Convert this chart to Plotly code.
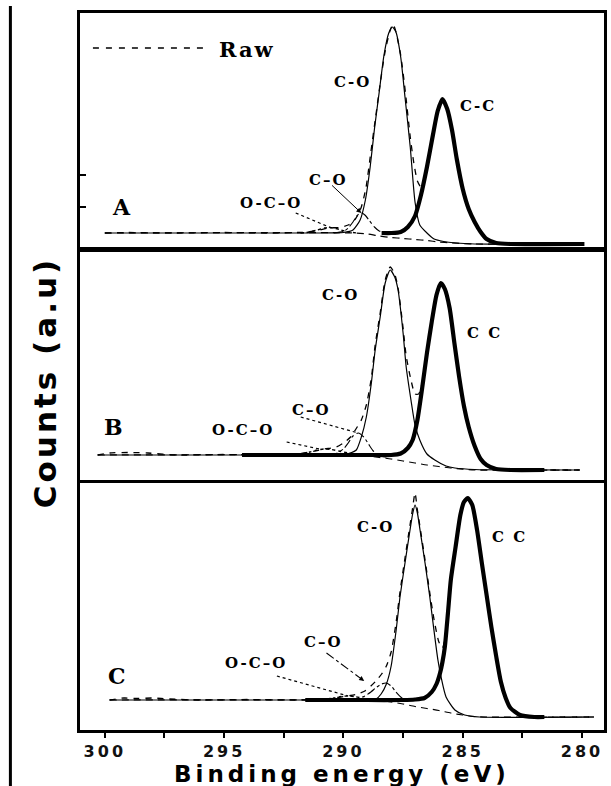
import plotly.graph_objects as go

# ------------------------------------------------------------------
# Data: binding energy (eV) and counts (a.u.)
# ------------------------------------------------------------------
# ---- Panel A ----
A_raw_E = [300.0, 299.0, 297.0, 295.0, 293.0, 291.5, 291.0, 290.6, 290.2, 289.8, 289.5, 289.25, 289.05, 288.85,
           288.65, 288.45, 288.25, 288.05, 287.92, 287.8, 287.6, 287.4, 287.2, 287.05, 286.9, 286.75, 286.5, 286.25,
           286.05, 285.85, 285.65, 285.45, 285.25, 285.0, 284.75, 284.5, 284.25, 284.0, 283.6, 283.0, 282.0, 280.0]
A_raw_I = [14, 14.5, 14, 14.5, 14, 15, 17, 19, 19.5, 22, 28, 40, 60, 95,
           130, 165, 196, 216, 223, 215, 192, 154, 110, 84, 66, 60, 80, 112,
           136, 148, 138, 117, 88, 58, 38, 25, 15, 8, 4, 3, 3, 3]
A_bg_E = [300.0, 289.5, 289.0, 288.5, 288.0, 287.5, 287.0, 286.5, 286.0, 285.5, 285.0, 284.5, 280.0]
A_bg_I = [14, 14, 13, 11, 9.5, 8.5, 7.5, 6.5, 5, 4.2, 3.5, 3, 3]
A_CC_E = [288.4, 288.0, 287.6, 287.3, 287.0, 286.75, 286.5, 286.25, 286.05, 285.85, 285.65, 285.45, 285.25, 285.0,
          284.75, 284.5, 284.25, 284.0, 283.6, 283.0, 279.9]
A_CC_I = [14, 14, 15, 20, 31, 52, 80, 112, 136, 148, 138, 117, 88, 58,
          38, 25, 15, 8, 4, 3, 3]
A_CO_E = [300.0, 291.0, 290.0, 289.6, 289.3, 289.08, 288.88, 288.7, 288.5, 288.3, 288.1, 287.95, 287.8, 287.6,
          287.42, 287.2, 287.0, 286.8, 286.5, 286.2, 285.8, 285.3, 284.5, 280.0]
A_CO_I = [14, 14, 14.5, 17, 27, 47, 80, 118, 155, 192, 214, 220, 215, 190,
          150, 100, 45, 22, 14, 8, 5.5, 4, 3, 3]
A_CdO_E = [290.4, 290.0, 289.8, 289.6, 289.4, 289.25, 289.1, 288.9, 288.7, 288.5, 288.2]
A_CdO_I = [14, 15.5, 19, 25, 32, 34, 32, 26, 20, 16, 14.5]
A_OCdO_E = [291.8, 291.4, 291.1, 290.8, 290.6, 290.4, 290.1, 289.8, 289.4]
A_OCdO_I = [14, 15, 17, 19, 19.5, 19, 17, 15, 14]

# ---- Panel B ----
B_raw_E = [300.3, 299.8, 299.0, 298.2, 297.0, 295.0, 293.0, 292.0, 291.4, 290.8, 290.3, 290.0, 289.7, 289.45,
           289.25, 289.04, 288.83, 288.67, 288.46, 288.25, 288.04, 287.85, 287.71, 287.5, 287.37, 287.17, 287.0,
           286.85, 286.7, 286.5, 286.3, 286.1, 285.92, 285.75, 285.55, 285.35, 285.15, 284.95, 284.75, 284.5,
           284.25, 284.0, 283.6, 283.0, 282.0, 280.1]
B_raw_I = [25, 27, 27.5, 27, 25, 25.5, 25, 26, 28, 31, 33, 37, 43, 52,
           60, 75, 102, 135, 167, 200, 213, 206, 192, 152, 124, 100, 86,
           86, 97, 127, 158, 185, 197, 191, 172, 137, 103, 74, 53, 34,
           21, 15, 11, 10, 10, 10]
B_bg_E = [300.3, 289.5, 289.0, 288.5, 288.0, 287.5, 287.0, 286.5, 286.0, 285.5, 285.0, 284.5, 280.1]
B_bg_I = [25, 25, 24, 22.5, 21, 19, 17, 15, 13.5, 12, 10.8, 10, 10]
B_CC_E = [294.25, 290.0, 288.5, 288.0, 287.6, 287.3, 287.1, 286.9, 286.7, 286.5, 286.3, 286.1, 285.92, 285.75,
          285.55, 285.35, 285.15, 284.95, 284.75, 284.5, 284.25, 284.0, 283.6, 283.0, 281.58]
B_CC_I = [25, 25, 25, 25, 26.5, 32, 40, 60, 92, 127, 158, 185, 197, 191,
          172, 137, 103, 74, 53, 34, 21, 15, 11, 10, 10]
B_CO_E = [300.3, 291.0, 290.0, 289.7, 289.46, 289.25, 289.04, 288.83, 288.67, 288.46, 288.25, 288.04, 287.85,
          287.71, 287.5, 287.37, 287.17, 287.0, 286.8, 286.5, 286.17, 285.7, 285.33, 284.5, 280.1]
B_CO_I = [25, 25, 25.5, 27, 30, 43, 63, 97, 130, 163, 197, 210, 203,
          190, 147, 113, 80, 55, 40, 26, 20, 14, 12, 10.5, 10]
B_CdO_E = [290.6, 290.3, 290.0, 289.8, 289.6, 289.38, 289.15, 288.95, 288.75, 288.5, 288.2]
B_CdO_I = [25, 26.5, 31, 37, 44, 47, 43, 36, 29, 24.5, 23]
B_OCdO_E = [292.2, 291.8, 291.4, 291.1, 290.8, 290.5, 290.2, 289.8, 289.4]
B_OCdO_I = [25, 26, 28, 30, 31, 30.5, 29, 27, 25.5]

# ---- Panel C ----
C_raw_E = [299.8, 299.2, 298.6, 298.0, 297.3, 296.0, 294.0, 292.0, 291.0, 290.4, 290.0, 289.7, 289.4, 289.1,
           288.85, 288.6, 288.4, 288.2, 288.0, 287.79, 287.63, 287.42, 287.21, 287.1, 287.0, 286.9, 286.79,
           286.58, 286.38, 286.2, 286.0, 285.85, 285.75, 285.62, 285.5, 285.3, 285.1, 284.95, 284.79, 284.6,
           284.4, 284.2, 284.0, 283.8, 283.6, 283.4, 283.2, 283.0, 282.6, 282.0, 281.0, 279.5]
C_raw_I = [30, 32, 31.5, 32, 31, 30, 30.5, 30, 30.5, 32, 33.5, 34.5, 36, 39,
           44, 50, 56, 64, 78, 108, 138, 172, 205, 222, 237, 220, 203,
           170, 137, 110, 88, 82, 90, 117, 150, 183, 215, 228, 232, 225,
           200, 167, 135, 103, 74, 48, 32, 22, 15, 13, 13, 13]
C_bg_E = [299.8, 289.0, 288.5, 288.0, 287.5, 287.0, 286.5, 286.0, 285.5, 285.0, 284.5, 284.0, 279.5]
C_bg_I = [30, 30, 29.5, 28, 26, 23.5, 21.5, 19.5, 17, 15, 13.5, 13, 13]
C_CC_E = [291.6, 289.0, 287.5, 287.0, 286.6, 286.3, 286.1, 285.95, 285.85, 285.75, 285.62, 285.5, 285.3, 285.1,
          284.95, 284.79, 284.6, 284.4, 284.2, 284.0, 283.8, 283.6, 283.4, 283.2, 283.0, 282.6, 282.0, 281.58]
C_CC_I = [30, 30, 30, 30.5, 32, 38, 46, 57, 68, 83, 117, 150, 183, 215,
          228, 232, 225, 200, 167, 135, 103, 74, 48, 32, 22, 15, 13, 13]
C_CO_E = [299.8, 291.0, 290.0, 289.3, 288.9, 288.63, 288.42, 288.2, 288.0, 287.79, 287.63, 287.42, 287.21,
          287.1, 287.0, 286.9, 286.79, 286.58, 286.38, 286.25, 286.04, 285.9, 285.7, 285.33, 284.92, 284.3, 279.5]
C_CO_I = [30, 30, 30, 30, 30.5, 31, 36, 46, 64, 100, 133, 167, 200,
          216, 225, 217, 200, 167, 133, 108, 70, 52, 33, 20, 15, 13, 13]
C_CdO_E = [289.7, 289.4, 289.1, 288.85, 288.6, 288.4, 288.2, 288.0, 287.8, 287.55, 287.3]
C_CdO_I = [30, 31.5, 34, 38, 43, 46, 47, 44, 38, 32, 30]
C_OCdO_E = [291.2, 290.8, 290.4, 290.1, 289.8, 289.5, 289.2, 288.8]
C_OCdO_I = [30, 30.8, 32, 33.5, 34, 33.3, 31.8, 30.3]

X_TICKS = [300, 297.5, 295, 292.5, 290, 287.5, 285, 282.5, 280]
X_TICKTEXT = ["300", "", "295", "", "290", "", "285", "", "280"]

# ------------------------------------------------------------------
W, H = 611, 786
ML, MR, MT, MB = 80, 4, 13, 56
PW, PH = W - ML - MR, H - MT - MB


def px(x):
    return (x - ML) / PW


def py(y):
    return (H - MB - y) / PH


E_RANGE = [301.04, 279.08]

STY = {
    "bg": dict(width=1.2, dash="7px,5px"),
    "raw": dict(width=1.3, dash="6px,6px"),
    "CO": dict(width=1.2, dash="solid"),
    "CdO": dict(width=1.1, dash="dashdot"),
    "OCdO": dict(width=1.4, dash="dot"),
    "CC": dict(width=4.2, dash="solid"),
}

panels = [
    dict(key="A", xa="x3", ya="y3", dom=[py(247), py(13)], yr=[0, 234],
         curves=[("bg", A_bg_E, A_bg_I), ("raw", A_raw_E, A_raw_I), ("CO", A_CO_E, A_CO_I),
                 ("CdO", A_CdO_E, A_CdO_I), ("OCdO", A_OCdO_E, A_OCdO_I), ("CC", A_CC_E, A_CC_I)]),
    dict(key="B", xa="x2", ya="y2", dom=[py(480), py(252)], yr=[0, 228],
         curves=[("bg", B_bg_E, B_bg_I), ("raw", B_raw_E, B_raw_I), ("CO", B_CO_E, B_CO_I),
                 ("CdO", B_CdO_E, B_CdO_I), ("OCdO", B_OCdO_E, B_OCdO_I), ("CC", B_CC_E, B_CC_I)]),
    dict(key="C", xa="x", ya="y", dom=[0, py(483)], yr=[0, 247],
         curves=[("bg", C_bg_E, C_bg_I), ("raw", C_raw_E, C_raw_I), ("CO", C_CO_E, C_CO_I),
                 ("CdO", C_CdO_E, C_CdO_I), ("OCdO", C_OCdO_E, C_OCdO_I), ("CC", C_CC_E, C_CC_I)]),
]

fig = go.Figure()
for p in panels:
    for name, E, I in p["curves"]:
        assert len(E) == len(I), (p["key"], name)
        fig.add_trace(go.Scatter(
            x=E, y=I, mode="lines", xaxis=p["xa"], yaxis=p["ya"],
            line=dict(color="black", shape="spline", smoothing=0.6, **STY[name]),
            showlegend=False, hoverinfo="skip"))


def apex(E, I):
    i = I.index(max(I))
    return E[i], I[i]


base_x = dict(range=E_RANGE, autorange=False, showline=True, mirror=True, linewidth=2.5, linecolor="black",
              showgrid=False, zeroline=False, ticks="", showticklabels=False)
base_y = dict(showline=True, mirror=True, linewidth=2.5, linecolor="black", showgrid=False, zeroline=False,
              ticks="", showticklabels=False, autorange=False)

layout = dict(
    width=W, height=H, margin=dict(l=ML, r=MR, t=MT, b=MB, pad=0),
    plot_bgcolor="white", paper_bgcolor="white", showlegend=False,
)
layout["xaxis"] = dict(base_x, anchor="y", domain=[0, 1], ticks="outside", ticklen=5, tickwidth=2,
                       tickcolor="black", tickvals=X_TICKS, ticktext=X_TICKTEXT, showticklabels=True,
                       tickfont=dict(family="DejaVu Sans", size=16, color="#111111", weight="bold"))
layout["yaxis"] = dict(base_y, anchor="x", domain=panels[2]["dom"], range=panels[2]["yr"])
layout["xaxis2"] = dict(base_x, anchor="y2", domain=[0, 1])
layout["yaxis2"] = dict(base_y, anchor="x2", domain=panels[1]["dom"], range=panels[1]["yr"])
layout["xaxis3"] = dict(base_x, anchor="y3", domain=[0, 1])
layout["yaxis3"] = dict(base_y, anchor="x3", domain=panels[0]["dom"], range=panels[0]["yr"],
                        ticks="inside", ticklen=6, tickwidth=1.5, tickcolor="black", tickvals=[40, 72])
fig.update_layout(**layout)

lab_font = dict(family="DejaVu Serif", size=15, color="black", weight="bold")
let_font = dict(family="DejaVu Serif", size=22, color="black", weight="bold")

labels = [
    ("x3", "y3", "O-C–O", 293.04, 44, lab_font), ("x3", "y3", "C–O", 290.63, 67, lab_font),
    ("x3", "y3", "C-O", 289.63, 165, lab_font), ("x3", "y3", "C-C", 284.38, 141, lab_font),
    ("x3", "y3", "A", 299.29, 40, let_font),
    ("x2", "y2", "C-O", 290.13, 185, lab_font), ("x2", "y2", "C C", 284.08, 147, lab_font),
    ("x2", "y2", "C–O", 291.33, 70, lab_font), ("x2", "y2", "O-C–O", 294.21, 50, lab_font),
    ("x2", "y2", "B", 299.63, 53, let_font),
    ("x", "y", "C-O", 288.67, 203, lab_font), ("x", "y", "C C", 283.04, 193, lab_font),
    ("x", "y", "C–O", 290.83, 88, lab_font), ("x", "y", "O-C–O", 293.67, 67, lab_font),
    ("x", "y", "C", 299.5, 54, let_font),
]
for xr, yr, t, x, y, f in labels:
    fig.add_annotation(xref=xr, yref=yr, x=x, y=y, text=t, showarrow=False, font=f,
                       xanchor="center", yanchor="middle")

# leader lines
shapes = []
aE, aI = apex(A_OCdO_E, A_OCdO_I)
shapes.append(dict(type="line", xref="x3", yref="y3", x0=292.0, y0=34, x1=aE - 0.2, y1=aI - 1.5,
                   line=dict(color="black", width=1.2, dash="dot")))
aE, aI = apex(A_CdO_E, A_CdO_I)
fig.add_annotation(xref="x3", yref="y3", x=aE, y=aI, axref="x3", ayref="y3", ax=290.54, ay=63, text="",
                   showarrow=True, arrowhead=2, arrowsize=1, arrowwidth=1, arrowcolor="black", standoff=0)
aE, aI = apex(B_OCdO_E, B_OCdO_I)
shapes.append(dict(type="line", xref="x2", yref="y2", x0=292.38, y0=38, x1=aE + 0.2, y1=aI,
                   line=dict(color="black", width=1.2, dash="dot")))
aE, aI = apex(B_CdO_E, B_CdO_I)
shapes.append(dict(type="line", xref="x2", yref="y2", x0=291.79, y0=63, x1=aE, y1=aI,
                   line=dict(color="black", width=1.2, dash="dot")))
aE, aI = apex(C_OCdO_E, C_OCdO_I)
shapes.append(dict(type="line", xref="x", yref="y", x0=292.79, y0=54, x1=aE, y1=aI,
                   line=dict(color="black", width=1.2, dash="dot")))
shapes.append(dict(type="line", xref="x", yref="y", x0=290.71, y0=77, x1=289.13, y1=49,
                   line=dict(color="black", width=1.1, dash="dashdot")))
fig.add_annotation(xref="x", yref="y", x=289.13, y=49, axref="x", ayref="y", ax=289.37, ay=53.2, text="",
                   showarrow=True, arrowhead=2, arrowsize=1, arrowwidth=1, arrowcolor="black", standoff=0)

# legend sample "Raw"
shapes.append(dict(type="line", xref="paper", yref="paper", x0=px(93), y0=py(48), x1=px(210), y1=py(48),
                   line=dict(color="black", width=1.6, dash="6px,7px")))
fig.add_annotation(xref="paper", yref="paper", x=px(248), y=py(49), text="Raw", showarrow=False,
                   font=dict(family="DejaVu Serif", size=21, color="black", weight="bold"),
                   xanchor="center", yanchor="middle")

# outer left rule
shapes.append(dict(type="line", xref="paper", yref="paper", x0=px(10), y0=py(6), x1=px(10), y1=py(786),
                   line=dict(color="black", width=3)))
fig.update_layout(shapes=shapes)

# axis titles
fig.add_annotation(xref="paper", yref="paper", x=px(45), y=py(383), text="Counts (a.u)", textangle=-90,
                   showarrow=False, font=dict(family="DejaVu Sans", size=31, color="black", weight="bold"),
                   xanchor="center", yanchor="middle")
fig.add_annotation(xref="paper", yref="paper", x=px(344), y=py(774), text="Binding energy (eV)",
                   showarrow=False, font=dict(family="DejaVu Sans", size=23, color="black", weight="bold"),
                   xanchor="center", yanchor="middle")

# wide letter spacing as in the original typesetting
post = """
var sp = {'Binding energy (eV)': '4px', 'Counts (a.u)': '3px', 'Raw': '2px'};
document.querySelectorAll('text.annotation-text').forEach(function(t){
  var s = t.textContent;
  if (sp[s]) { t.style.letterSpacing = sp[s]; }
  else if (s.length > 1 && s.length <= 5) { t.style.letterSpacing = '2px'; }
});
document.querySelectorAll('.xtick text').forEach(function(t){ t.style.letterSpacing = '3px'; });
"""

fig.write_html("out.html", post_script=post)
